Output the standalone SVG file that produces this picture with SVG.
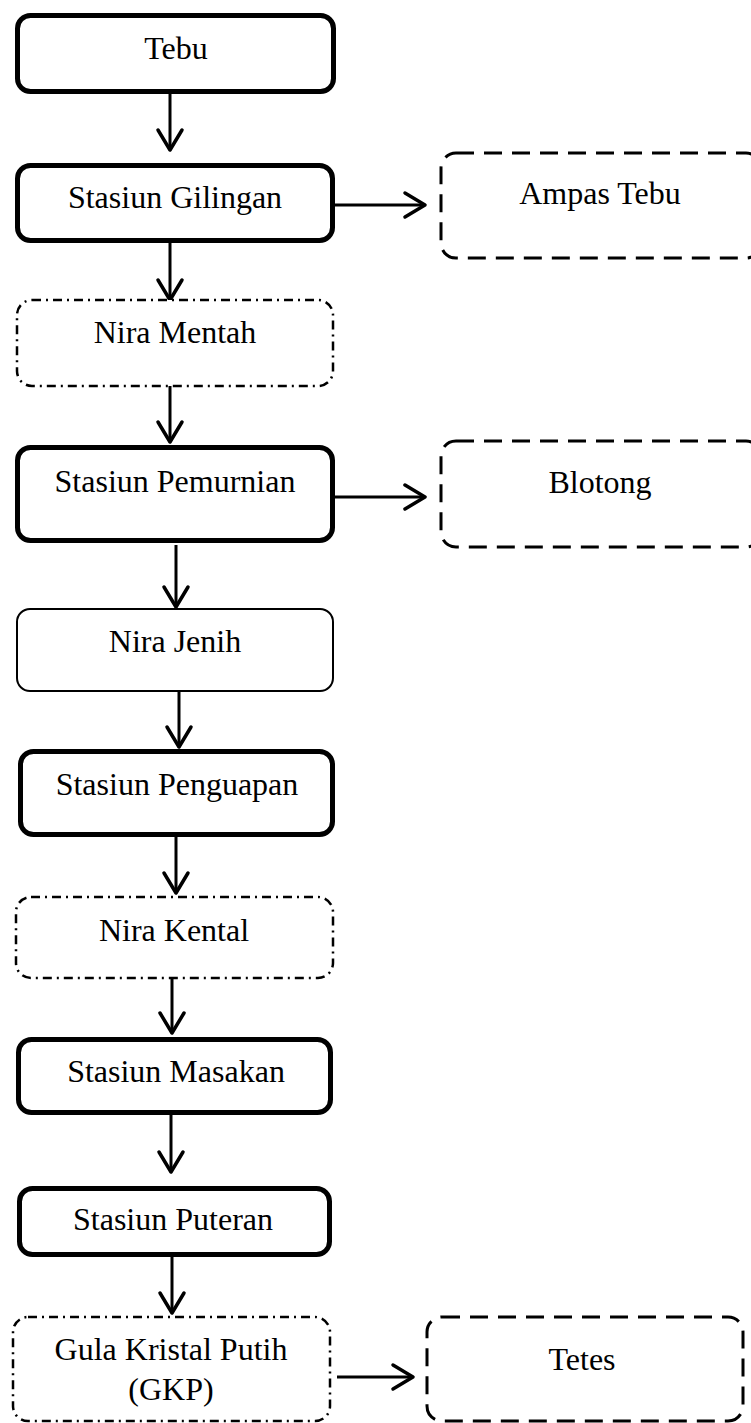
<svg xmlns="http://www.w3.org/2000/svg" width="751" height="1423" viewBox="0 0 751 1423">
<style>
.bold{fill:#fff;stroke:#000;stroke-width:5}
.thin{fill:#fff;stroke:#000;stroke-width:2}
.dash{fill:#fff;stroke:#000;stroke-width:3;stroke-dasharray:18 10}
.dd{fill:#fff;stroke:#000;stroke-width:2.5;stroke-dasharray:9 5 2 5}
text{font-family:"Liberation Serif","Times New Roman",serif;font-size:32px;fill:#000;text-anchor:middle}
.c line{stroke:#000;stroke-width:3;marker-end:url(#ah)}
</style>
<defs>
<marker id="ah" markerUnits="userSpaceOnUse" markerWidth="30" markerHeight="30" viewBox="-24 -15 28 30" refX="0" refY="0" orient="auto">
<path d="M-20,-12 L0,0 L-20,12" fill="none" stroke="#000" stroke-width="3.5" stroke-linecap="round" stroke-linejoin="round"/>
</marker>
</defs>
<rect width="751" height="1423" fill="#fff"/>
<g class="c" id="connectors">
<line x1="170" y1="93" x2="170" y2="150"/>
<line x1="170" y1="242" x2="170" y2="300"/>
<line x1="170" y1="386" x2="170" y2="442"/>
<line x1="176" y1="545" x2="176" y2="607"/>
<line x1="179" y1="691" x2="179" y2="747"/>
<line x1="176" y1="837" x2="176" y2="893"/>
<line x1="172" y1="978" x2="172" y2="1033"/>
<line x1="171" y1="1115" x2="171" y2="1172"/>
<line x1="172" y1="1257" x2="172" y2="1313"/>
<line x1="335" y1="205" x2="425" y2="205"/>
<line x1="335" y1="497" x2="425" y2="497"/>
<line x1="337" y1="1377" x2="413" y2="1377"/>
</g>
<g id="tebu"><rect class="bold" x="17.5" y="15.5" width="316" height="76" rx="13"/><text x="176" y="59">Tebu</text></g>
<g id="gilingan"><rect class="bold" x="17.5" y="165.5" width="315" height="75" rx="13"/><text x="175" y="208">Stasiun Gilingan</text></g>
<g id="ampas"><rect class="dash" x="441" y="153" width="320" height="105" rx="15"/><text x="600" y="204">Ampas Tebu</text></g>
<g id="niramentah"><rect class="dd" x="17" y="300" width="316" height="86" rx="15"/><text x="175" y="343">Nira Mentah</text></g>
<g id="pemurnian"><rect class="bold" x="17.5" y="447.5" width="315" height="93" rx="13"/><text x="175" y="492">Stasiun Pemurnian</text></g>
<g id="blotong"><rect class="dash" x="441" y="441" width="320" height="106" rx="15"/><text x="600" y="493">Blotong</text></g>
<g id="nirajenih"><rect class="thin" x="17" y="609" width="316" height="82" rx="13"/><text x="175" y="652">Nira Jenih</text></g>
<g id="penguapan"><rect class="bold" x="20.5" y="751.5" width="312" height="83" rx="13"/><text x="177" y="795">Stasiun Penguapan</text></g>
<g id="nirakental"><rect class="dd" x="16" y="897" width="317" height="81" rx="15"/><text x="174" y="941">Nira Kental</text></g>
<g id="masakan"><rect class="bold" x="18.5" y="1039.5" width="312" height="73" rx="13"/><text x="176" y="1082">Stasiun Masakan</text></g>
<g id="puteran"><rect class="bold" x="19.5" y="1188.5" width="310" height="66" rx="13"/><text x="173" y="1230">Stasiun Puteran</text></g>
<g id="gkp"><rect class="dd" x="13" y="1317" width="317" height="104" rx="15"/><text x="171" y="1360">Gula Kristal Putih</text><text x="171" y="1400">(GKP)</text></g>
<g id="tetes"><rect class="dash" x="427" y="1317" width="316" height="104" rx="15"/><text x="582" y="1370">Tetes</text></g>
</svg>
